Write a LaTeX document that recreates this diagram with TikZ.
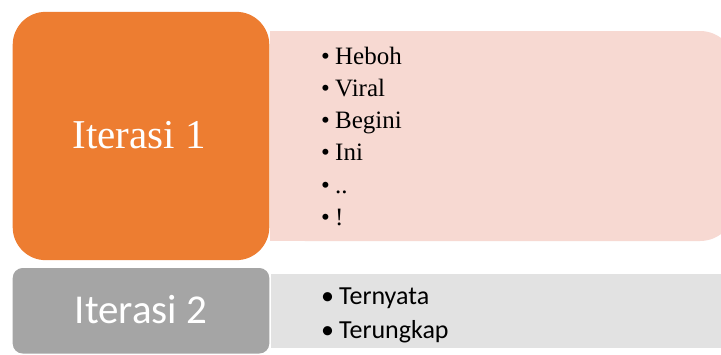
\documentclass[tikz,border=0pt]{standalone}
\usepackage{fontspec}
\setmainfont{Liberation Serif}
\newfontfamily\calib{Carlito}
\definecolor{orng}{HTML}{ED7D31}
\definecolor{pinkbg}{HTML}{F7D9D2}
\definecolor{grayb}{HTML}{A5A5A5}
\definecolor{lgray}{HTML}{E2E2E2}
\begin{document}
\begin{tikzpicture}[x=1pt,y=-1pt,
  box/.style={rectangle, inner sep=0pt, draw=none},
  bulA/.style={anchor=base west, inner sep=0pt, font=\fontsize{25}{30}\selectfont, text=black},
  bulB/.style={anchor=base west, inner sep=0pt, font=\calib\fontsize{26}{30}\selectfont, text=black},
  title/.style={anchor=base, inner sep=0pt, text=white}]
\clip (0,0) rectangle (721,354);
\fill[white] (0,0) rectangle (721,354);
% pink list box
\node[box, fill=pinkbg, rounded corners=35pt, minimum width=465pt, minimum height=210pt] (pinkbox) at (502.5,136) {};
\fill[pinkbg] (270,31) rectangle (400,241);
% light gray list box
\node[box, fill=lgray, minimum width=459pt, minimum height=74pt] (graylist) at (500.5,311) {};
% orange box
\node[box, fill=orng, rounded corners=33pt, minimum width=256.6pt, minimum height=248.3pt] (it1) at (141,136) {};
% gray box
\node[box, fill=grayb, rounded corners=10pt, minimum width=256.6pt, minimum height=85.5pt] (it2) at (141,310.75) {};
% titles
\node[title, font=\fontsize{41}{48}\selectfont] (t1) at (139,148.3) {Iterasi 1};
\node[title, font=\calib\fontsize{41}{48}\selectfont] (t2) at (141,323.3) {Iterasi 2};
% bullets iterasi 1
\node[bulA] (a1) at (321,64)    {\makebox[14pt][l]{\textbullet}Heboh};
\node[bulA] (a2) at (321,96.3)  {\makebox[14pt][l]{\textbullet}Viral};
\node[bulA] (a3) at (321,128.6) {\makebox[14pt][l]{\textbullet}Begini};
\node[bulA] (a4) at (321,160.9) {\makebox[14pt][l]{\textbullet}Ini};
\node[bulA] (a5) at (321,193.2) {\makebox[14pt][l]{\textbullet}..};
\node[bulA] (a6) at (321,225.5) {\makebox[14pt][l]{\textbullet}!};
% bullets iterasi 2
\node[bulB] (b1) at (321,304) {\makebox[18pt][l]{\textbullet}Ternyata};
\node[bulB] (b2) at (321,338) {\makebox[18pt][l]{\textbullet}Terungkap};
\end{tikzpicture}
\end{document}
